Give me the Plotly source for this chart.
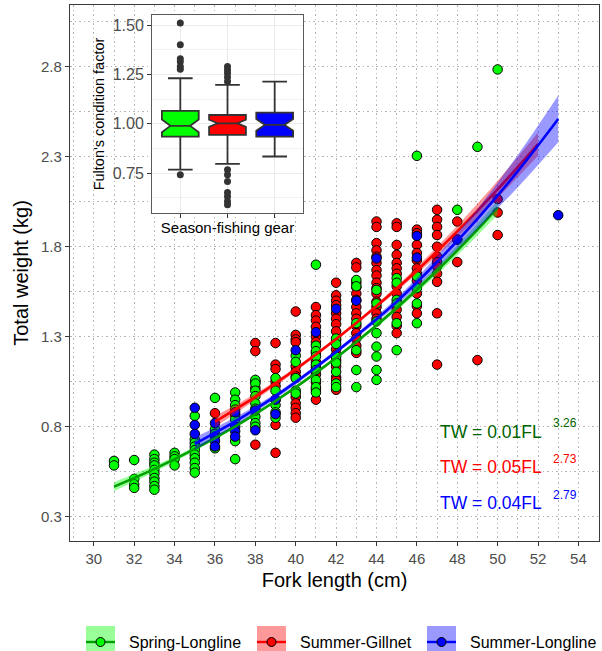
import plotly.graph_objects as go

# ---------------- data ----------------
group_names = ["Spring-Longline", "Summer-Gillnet", "Summer-Longline"]

# Fork length (cm) -> total weights (kg)
spring_points = {
    31: [0.61, 0.585],
    32: [0.615, 0.51, 0.48, 0.46],
    33: [0.645, 0.62, 0.60, 0.585, 0.56, 0.54, 0.515, 0.495, 0.47, 0.45],
    34: [0.655, 0.635, 0.62, 0.585],
    35: [0.86, 0.73, 0.71, 0.69, 0.67, 0.645, 0.625, 0.60, 0.57, 0.545],
    36: [0.96, 0.785, 0.76, 0.68],
    37: [0.99, 0.95, 0.92, 0.895, 0.865, 0.84, 0.72, 0.62],
    38: [1.06, 1.04, 1.0, 0.97, 0.93, 0.90, 0.855, 0.82, 0.80],
    39: [1.07, 1.0, 0.95, 0.92, 0.88, 0.85],
    40: [1.195, 1.16, 1.07, 1.0, 0.985],
    41: [1.70, 1.25, 1.22, 1.19, 1.145, 1.115, 1.06, 1.02, 0.99],
    42: [1.29, 1.26, 1.19, 1.155, 1.105, 1.04, 1.02],
    43: [1.615, 1.58, 1.375, 1.225, 1.115, 1.02],
    44: [1.56, 1.485, 1.385, 1.32, 1.245, 1.19, 1.115, 1.06],
    45: [1.625, 1.60, 1.505, 1.485, 1.375, 1.225],
    46: [2.305, 1.635, 1.57, 1.485, 1.375],
    48: [2.005],
    49: [2.355],
    50: [2.785],
}
gillnet_points = {
    36: [0.875],
    38: [1.265, 1.22, 1.05, 1.015, 0.70],
    39: [1.265, 1.145, 1.12, 1.05, 1.025, 0.81, 0.655],
    40: [1.44, 1.31, 1.285, 1.27, 1.135, 1.105, 1.08, 0.965, 0.93, 0.905, 0.875, 0.85],
    41: [1.465, 1.42, 1.39, 1.355, 1.30, 1.27, 1.21, 1.16, 1.13, 1.09, 1.045, 1.005, 0.95],
    42: [1.60, 1.53, 1.50, 1.475, 1.43, 1.40, 1.37, 1.33, 1.28, 1.23, 1.20, 1.17, 1.135, 1.075, 1.06, 1.005],
    43: [1.71, 1.685, 1.60, 1.575, 1.54, 1.505, 1.465, 1.43, 1.40, 1.36, 1.32, 1.29, 1.25, 1.21],
    44: [1.94, 1.91, 1.82, 1.78, 1.745, 1.71, 1.67, 1.64, 1.60, 1.57, 1.54, 1.495, 1.465, 1.43, 1.40],
    45: [1.93, 1.91, 1.81, 1.755, 1.71, 1.68, 1.65, 1.58, 1.54, 1.45, 1.41, 1.36, 1.32],
    46: [1.895, 1.875, 1.81, 1.765, 1.725, 1.68, 1.65, 1.61, 1.54, 1.47, 1.43],
    47: [2.005, 1.95, 1.91, 1.865, 1.80, 1.745, 1.715, 1.69, 1.65, 1.605, 1.43, 1.145],
    48: [1.94, 1.84, 1.715],
    49: [1.17],
    50: [2.065, 1.99, 1.865],
}
longline_points = {
    35: [0.905, 0.81, 0.76],
    36: [0.82, 0.745, 0.72, 0.69],
    37: [0.88, 0.80, 0.775, 0.745],
    38: [0.89, 0.78],
    39: [0.95, 0.87],
    40: [1.225],
    41: [1.325],
    42: [1.455],
    43: [1.50],
    44: [1.735],
    46: [1.74, 1.86],
    48: [1.84],
    53: [1.975],
}

# fitted length-weight curves with confidence bands
green_fit_fl = [31, 33, 35, 37, 39, 41, 43, 45, 47, 49, 50]
green_fit_tw = [0.467, 0.566, 0.677, 0.802, 0.943, 1.099, 1.271, 1.46, 1.668, 1.895, 2.017]
green_fit_lo = [0.442, 0.548, 0.665, 0.793, 0.935, 1.091, 1.261, 1.446, 1.646, 1.863, 1.979]
green_fit_hi = [0.492, 0.584, 0.689, 0.811, 0.951, 1.107, 1.281, 1.474, 1.690, 1.927, 2.055]

red_fit_fl = [36, 38, 40, 42, 44, 46, 48, 50, 52]
red_fit_tw = [0.828, 0.966, 1.119, 1.287, 1.47, 1.668, 1.885, 2.119, 2.37]
red_fit_lo = [0.798, 0.948, 1.107, 1.277, 1.458, 1.648, 1.853, 2.071, 2.305]
red_fit_hi = [0.858, 0.984, 1.131, 1.297, 1.482, 1.688, 1.917, 2.167, 2.435]

blue_fit_fl = [35, 37, 39, 41, 43, 45, 47, 49, 51, 53]
blue_fit_tw = [0.705, 0.83, 0.97, 1.13, 1.305, 1.495, 1.715, 1.955, 2.22, 2.51]
blue_fit_lo = [0.670, 0.808, 0.955, 1.118, 1.292, 1.475, 1.680, 1.900, 2.130, 2.38]
blue_fit_hi = [0.740, 0.852, 0.985, 1.142, 1.318, 1.515, 1.750, 2.010, 2.310, 2.64]

# inset: Fulton's condition factor by season-fishing gear
box_q1 = [0.936, 0.944, 0.936]
box_median = [0.99, 1.003, 0.995]
box_q3 = [1.066, 1.045, 1.057]
box_lower = [0.768, 0.798, 0.835]
box_upper = [1.231, 1.197, 1.214]
box_notch = [0.032, 0.018, 0.03]
box_outliers = [
    [1.51, 1.40, 1.33, 1.315, 1.29, 1.276, 0.742],
    [1.29, 1.273, 1.256, 1.236, 1.214, 0.768, 0.742, 0.709, 0.653, 0.633, 0.608, 0.591],
    [],
]

equation_text = ["TW = 0.01FL", "TW = 0.05FL", "TW = 0.04FL"]
equation_exp = ["3.26", "2.73", "2.79"]

x_ticks = list(range(30, 55, 2))
y_ticks = [0.3, 0.8, 1.3, 1.8, 2.3, 2.8]
inset_ticks = [0.75, 1.00, 1.25, 1.50]

# ---------------- styling ----------------
point_colors = ["#00FF00", "#FF0000", "#0000FF"]
line_colors = ["#00A000", "#FF0000", "#0000FF"]
band_colors = ["rgba(0,255,0,0.4)", "rgba(255,0,0,0.4)", "rgba(0,0,255,0.4)"]
key_fill = ["#99FF99", "#FF9999", "#9999FF"]
eq_colors = ["#006400", "#FF0000", "#0000FF"]
FONT = "Liberation Sans, Arial, sans-serif"

W, H = 602, 651
ML, MR, MT, MB = 70, 3, 5, 110
PW, PH = W - ML - MR, H - MT - MB


def px2x(px):
    return (px - ML) / PW


def px2y(py):
    return (H - MB - py) / PH


def flatten(d):
    xs, ys = [], []
    for fl, tws in d.items():
        xs += [fl] * len(tws)
        ys += tws
    return xs, ys


fig = go.Figure()

# points: gillnet first, then spring, then summer longline on top
point_sets = [spring_points, gillnet_points, longline_points]
for gi in [1, 0, 2]:
    xs, ys = flatten(point_sets[gi])
    fig.add_trace(go.Scatter(
        x=xs, y=ys, mode="markers", showlegend=False, hoverinfo="skip",
        marker=dict(size=9.5, color=point_colors[gi], line=dict(color="black", width=1)),
    ))

fits = [
    (green_fit_fl, green_fit_tw, green_fit_lo, green_fit_hi),
    (red_fit_fl, red_fit_tw, red_fit_lo, red_fit_hi),
    (blue_fit_fl, blue_fit_tw, blue_fit_lo, blue_fit_hi),
]
for gi, (fl, tw, lo, hi) in enumerate(fits):
    fig.add_trace(go.Scatter(x=fl, y=lo, mode="lines", line=dict(width=0, shape="spline"),
                             showlegend=False, hoverinfo="skip"))
    fig.add_trace(go.Scatter(x=fl, y=hi, mode="lines", line=dict(width=0, shape="spline"),
                             fill="tonexty", fillcolor=band_colors[gi],
                             showlegend=False, hoverinfo="skip"))
    fig.add_trace(go.Scatter(x=fl, y=tw, mode="lines",
                             line=dict(color=line_colors[gi], width=2.6, shape="spline"),
                             showlegend=False, hoverinfo="skip"))

# inset boxplots
for gi in range(3):
    fig.add_trace(go.Box(
        x=[gi + 1], q1=[box_q1[gi]], median=[box_median[gi]], q3=[box_q3[gi]],
        lowerfence=[box_lower[gi]], upperfence=[box_upper[gi]],
        notched=True, notchspan=[box_notch[gi]], notchwidth=0.23,
        width=0.78, whiskerwidth=0.67, fillcolor=point_colors[gi],
        line=dict(color="#333333", width=1.8), boxpoints=False,
        xaxis="x2", yaxis="y2", showlegend=False, hoverinfo="skip",
    ))
    if box_outliers[gi]:
        fig.add_trace(go.Scatter(
            x=[gi + 1] * len(box_outliers[gi]), y=box_outliers[gi], mode="markers",
            marker=dict(size=7, color="#333333"), xaxis="x2", yaxis="y2",
            showlegend=False, hoverinfo="skip",
        ))

GRID = "#B3B3B3"
DASH = "1.5px,3px"

annotations = []
for gi in range(3):
    annotations.append(dict(
        x=47.07, y=[0.772, 0.578, 0.378][gi], xref="x", yref="y",
        text=equation_text[gi], showarrow=False, xanchor="left", yanchor="middle",
        font=dict(family=FONT, size=17.5, color=eq_colors[gi]),
    ))
    annotations.append(dict(
        x=52.63, y=[0.822, 0.62, 0.42][gi], xref="x", yref="y",
        text=equation_exp[gi], showarrow=False, xanchor="left", yanchor="middle",
        font=dict(family=FONT, size=12, color=eq_colors[gi]),
    ))

# manual legend (key box with line + point, then label)
shapes = []
key_left = [86, 257, 427]
label_left = [127, 298, 468]
key_w = 29
for gi in range(3):
    x0, x1 = key_left[gi], key_left[gi] + key_w
    shapes.append(dict(type="rect", xref="paper", yref="paper",
                       x0=px2x(x0), x1=px2x(x1), y0=px2y(626), y1=px2y(656),
                       fillcolor=key_fill[gi], line=dict(width=0), layer="above"))
    shapes.append(dict(type="line", xref="paper", yref="paper",
                       x0=px2x(x0), x1=px2x(x1), y0=px2y(642), y1=px2y(642),
                       line=dict(color=line_colors[gi], width=2.4), layer="above"))
    cx = (x0 + x1) / 2
    shapes.append(dict(type="circle", xref="paper", yref="paper",
                       x0=px2x(cx - 4.5), x1=px2x(cx + 4.5), y0=px2y(646.5), y1=px2y(637.5),
                       fillcolor=point_colors[gi], line=dict(color="black", width=1), layer="above"))
    annotations.append(dict(
        x=px2x(label_left[gi]), y=px2y(642), xref="paper", yref="paper",
        text=group_names[gi], showarrow=False, xanchor="left", yanchor="middle",
        font=dict(family=FONT, size=16, color="black"),
    ))

fig.update_layout(
    width=W, height=H, margin=dict(l=ML, r=MR, t=MT, b=MB),
    plot_bgcolor="white", paper_bgcolor="white", showlegend=False,
    font=dict(family=FONT, color="#4D4D4D"),
    xaxis=dict(
        range=[28.82, 55.02], tickmode="array", tickvals=x_ticks,
        showgrid=True, gridcolor=GRID, griddash=DASH, gridwidth=1,
        minor=dict(tickmode="linear", tick0=29, dtick=1, showgrid=True,
                   gridcolor=GRID, griddash=DASH, ticks=""),
        showline=True, mirror=True, linecolor="#3A3A3A", linewidth=1.3,
        ticks="outside", ticklen=4, tickcolor="#3A3A3A", tickwidth=1.2,
        tickfont=dict(family=FONT, size=15, color="#4D4D4D"),
        zeroline=False, automargin=False,
        title=dict(text="Fork length (cm)", font=dict(family=FONT, size=20, color="black"), standoff=6),
    ),
    yaxis=dict(
        range=[0.165, 3.143], tickmode="array", tickvals=y_ticks, tickformat=".1f",
        showgrid=True, gridcolor=GRID, griddash=DASH, gridwidth=1,
        minor=dict(tickmode="linear", tick0=0.3, dtick=0.25, showgrid=True,
                   gridcolor=GRID, griddash=DASH, ticks=""),
        showline=True, mirror=True, linecolor="#3A3A3A", linewidth=1.3,
        ticks="outside", ticklen=4, tickcolor="#3A3A3A", tickwidth=1.2,
        tickfont=dict(family=FONT, size=15, color="#4D4D4D"),
        zeroline=False, automargin=False,
        title=dict(text="Total weight (kg)", font=dict(family=FONT, size=20, color="black"), standoff=6),
    ),
    xaxis2=dict(
        domain=[px2x(152), px2x(303)], anchor="y2", range=[0.4, 3.6],
        tickmode="array", tickvals=[1, 2, 3], showticklabels=False,
        ticks="outside", ticklen=4, tickcolor="#333333", tickwidth=1.2,
        showgrid=True, gridcolor="#EBEBEB", gridwidth=1,
        showline=True, mirror=True, linecolor="#5A5A5A", linewidth=1,
        zeroline=False, automargin=False,
        title=dict(text="Season-fishing gear", font=dict(family=FONT, size=15, color="black"), standoff=5),
    ),
    yaxis2=dict(
        domain=[px2y(213), px2y(15)], anchor="x2", range=[0.549, 1.551],
        tickmode="array", tickvals=inset_ticks, tickformat=".2f",
        minor=dict(tickmode="array", tickvals=[0.625, 0.875, 1.125, 1.375], showgrid=True,
                   gridcolor="#F2F2F2", ticks=""),
        ticks="outside", ticklen=4, tickcolor="#333333", tickwidth=1.2,
        tickfont=dict(family=FONT, size=16, color="#4D4D4D"),
        showgrid=True, gridcolor="#EBEBEB", gridwidth=1,
        showline=True, mirror=True, linecolor="#5A5A5A", linewidth=1,
        zeroline=False, automargin=False,
        title=dict(text="Fulton's condition factor", font=dict(family=FONT, size=14.5, color="black"), standoff=4),
    ),
    annotations=annotations,
    shapes=shapes,
)

# remove the default 8px page margin so the figure sits at the window's corner
fig.write_html(
    "out.html",
    config={"displayModeBar": False},
    post_script="document.body.style.margin='0px';document.body.style.overflow='hidden';",
)
